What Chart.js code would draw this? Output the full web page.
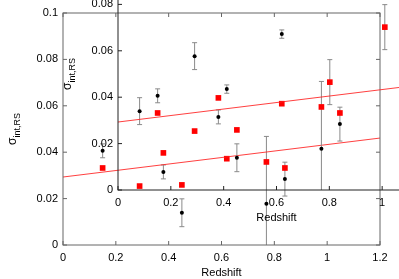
<!DOCTYPE html>
<html lang="en">
<head>
<meta charset="UTF-8">
<title>sigma_int,RS vs Redshift</title>
<script src="https://cdn.jsdelivr.net/npm/chart.js"></script>
<style>
  html, body { margin: 0; padding: 0; overflow: hidden; background: white; }
  body { width: 399px; height: 279px; position: relative; }
  canvas { position: absolute; left: 0; top: 0; }
  /* second copy of the same plot, shifted up and right */
  #inset { left: 55px; top: -55px; }
</style>
</head>
<body>
<canvas id="main" width="399" height="279"></canvas>
<canvas id="inset" width="399" height="279"></canvas>
<script>
let xTicks = [0, 0.2, 0.4, 0.6, 0.8, 1, 1.2];
let yTicks = [0, 0.02, 0.04, 0.06, 0.08, 0.1];

// black points with error bars
let blackZ = [0.15, 0.29, 0.38, 0.45, 0.62, 0.77, 0.84];
let blackSigma = [0.0406, 0.0577, 0.0315, 0.0139, 0.0672, 0.0178, 0.0284];
let blackErr = [0.003, 0.0058, 0.003, 0.006, 0.0018, 0.029, 0.0073];

// red squares
let redZ = [0.15, 0.29, 0.38, 0.45, 0.62, 0.77, 0.84, 1.01];
let redSigma = [0.0332, 0.0254, 0.0397, 0.0259, 0.0372, 0.0358, 0.0332, 0.0702];
let redErr = [0, 0, 0, 0, 0, 0, 0, 0.0097];

// fitted line
let fitZ = [0, 1.2];
let fitSigma = [0.0293, 0.0461];

const FONT = "'Liberation Sans', Arial, sans-serif";

function toPoints(xs, ys) {
    return xs.map((x, i) => ({ x: x, y: ys[i] }));
}

function drawBars(chart, xs, ys, errs) {
    let ctx = chart.ctx;
    let sx = chart.scales.x, sy = chart.scales.y;
    for (let i = 0; i < xs.length; i++) {
        if (!errs[i]) continue;
        let px = sx.getPixelForValue(xs[i]);
        let top = sy.getPixelForValue(ys[i] + errs[i]);
        let bot = sy.getPixelForValue(ys[i] - errs[i]);
        ctx.beginPath();
        ctx.moveTo(px, top); ctx.lineTo(px, bot);
        ctx.moveTo(px - 2.5, top); ctx.lineTo(px + 2.5, top);
        ctx.moveTo(px - 2.5, bot); ctx.lineTo(px + 2.5, bot);
        ctx.stroke();
    }
}

const frame = {
    id: 'frame',
    beforeDatasetsDraw(chart) {
        let ctx = chart.ctx, a = chart.chartArea;
        ctx.save();
        ctx.beginPath();
        ctx.rect(a.left, a.top, a.right - a.left, a.bottom - a.top);
        ctx.clip();
        ctx.strokeStyle = '#8a8a8a';
        ctx.lineWidth = 1;
        drawBars(chart, blackZ, blackSigma, blackErr);
        drawBars(chart, redZ, redSigma, redErr);
        ctx.restore();
    },
    afterDraw(chart, args, opts) {
        let ctx = chart.ctx, a = chart.chartArea;
        let sx = chart.scales.x, sy = chart.scales.y;
        ctx.save();
        ctx.strokeStyle = opts.color;
        ctx.lineWidth = 1;
        ctx.strokeRect(a.left, a.top, a.right - a.left, a.bottom - a.top);
        ctx.beginPath();
        xTicks.forEach(v => {
            let p = sx.getPixelForValue(v);
            ctx.moveTo(p, a.bottom); ctx.lineTo(p, a.bottom - 4);
            ctx.moveTo(p, a.top); ctx.lineTo(p, a.top + 4);
        });
        yTicks.forEach(v => {
            let p = sy.getPixelForValue(v);
            ctx.moveTo(a.left, p); ctx.lineTo(a.left + 4, p);
            ctx.moveTo(a.right, p); ctx.lineTo(a.right - 4, p);
        });
        ctx.stroke();

        // axis titles
        ctx.fillStyle = '#000';
        ctx.font = '11px ' + FONT;
        ctx.textAlign = 'center';
        ctx.textBaseline = 'alphabetic';
        ctx.fillText('Redshift', (a.left + a.right) / 2, a.bottom + 31);

        ctx.translate(a.left - 47, (a.top + a.bottom) / 2);
        ctx.rotate(-Math.PI / 2);
        ctx.font = '12px ' + FONT;
        let w1 = ctx.measureText('σ').width;
        ctx.font = '9px ' + FONT;
        let w2 = ctx.measureText('int,RS').width;
        let start = -(w1 + w2) / 2;
        ctx.textAlign = 'left';
        ctx.font = '12px ' + FONT;
        ctx.fillText('σ', start, 0);
        ctx.font = '9px ' + FONT;
        ctx.fillText('int,RS', start + w1, 4);
        ctx.restore();
    }
};

function makeChart(id, frameColor) {
    let ctx = document.getElementById(id).getContext('2d');
    return new Chart(ctx, {
        data: {
            datasets: [
                {
                    type: 'line',
                    data: toPoints(fitZ, fitSigma),
                    borderColor: 'rgba(255, 30, 30, 0.85)',
                    borderWidth: 1,
                    pointRadius: 0,
                    fill: false
                },
                {
                    type: 'scatter',
                    data: toPoints(redZ, redSigma),
                    pointStyle: 'rect',
                    pointRadius: 4,
                    backgroundColor: '#ff0000',
                    borderWidth: 0
                },
                {
                    type: 'scatter',
                    data: toPoints(blackZ, blackSigma),
                    pointStyle: 'circle',
                    pointRadius: 2,
                    backgroundColor: '#000',
                    borderWidth: 0
                }
            ]
        },
        options: {
            responsive: false,
            animation: false,
            events: [],
            layout: { padding: { top: 13, right: 19, left: 0, bottom: 0 } },
            plugins: {
                legend: { display: false },
                tooltip: { enabled: false },
                frame: { color: frameColor }
            },
            scales: {
                x: {
                    type: 'linear',
                    min: 0,
                    max: 1.2,
                    afterBuildTicks: s => { s.ticks = xTicks.map(v => ({ value: v })); },
                    afterFit: s => { s.height = 34; },
                    grid: { display: false, drawTicks: false },
                    border: { display: false },
                    ticks: {
                        color: '#000',
                        font: { family: FONT, size: 11 },
                        padding: 6,
                        maxRotation: 0,
                        autoSkip: false,
                        callback: v => String(v)
                    }
                },
                y: {
                    type: 'linear',
                    min: 0,
                    max: 0.1,
                    afterBuildTicks: s => { s.ticks = yTicks.map(v => ({ value: v })); },
                    afterFit: s => { s.width = 63; },
                    grid: { display: false, drawTicks: false },
                    border: { display: false },
                    ticks: {
                        color: '#000',
                        font: { family: FONT, size: 11 },
                        padding: 5,
                        autoSkip: false,
                        callback: v => String(v)
                    }
                }
            }
        },
        plugins: [frame]
    });
}

makeChart('main', '#666');
makeChart('inset', '#222');
</script>
</body>
</html>
